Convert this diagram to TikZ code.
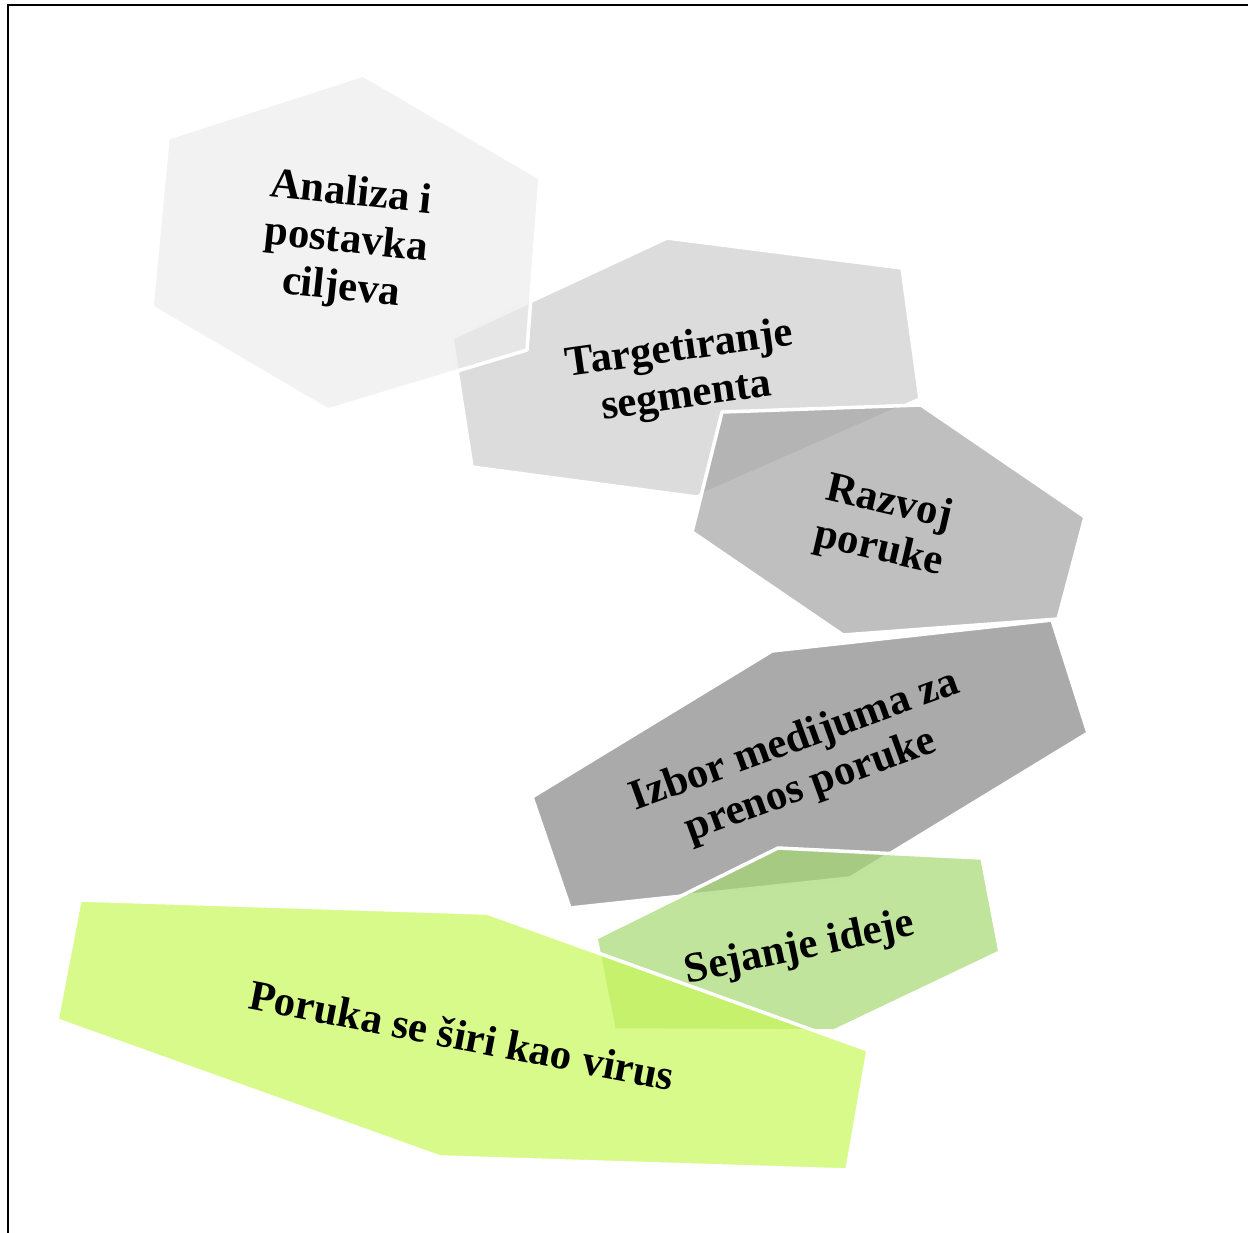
\documentclass[tikz,border=0pt]{standalone}
\usepackage{fontspec}
\setmainfont{Liberation Serif}

\definecolor{grayA}{RGB}{236,236,236}
\definecolor{grayB}{RGB}{205,205,205}
\definecolor{grayC}{RGB}{164,164,164}
\definecolor{grayD}{RGB}{134,134,134}
\definecolor{greenA}{RGB}{165,216,114}
\definecolor{greenB}{RGB}{200,248,90}

\begin{document}
\begin{tikzpicture}[x=0.2mm, y=-0.2mm, hexa/.style={draw=white, line width=2pt, line join=round, fill opacity=0.7}, caption/.style={font=\fontsize{24.3}{27}\selectfont\bfseries, align=center, text=black}]
\clip (0,0) rectangle (1248,1232);
\draw [line width=1.2pt] (8,5) rectangle (1270,1250);

% the hexagons, back to front
\filldraw [hexa, fill=grayB] (452,338) -- (667,238) -- (902,268) -- (920,399) -- (697,497) -- (472,467) -- cycle;
\filldraw [hexa, fill=grayA] (168,138) -- (363,75) -- (540,178) -- (527,350) -- (328,410) -- (152,307) -- cycle;
\filldraw [hexa, fill=grayC] (722,412) -- (921,405) -- (1085,517) -- (1058,619) -- (843,635) -- (692,532) -- cycle;
\filldraw [hexa, fill=grayD] (532,797) -- (772,651) -- (1052,620) -- (1088,733) -- (850,878) -- (570,908) -- cycle;
\filldraw [hexa, fill=greenA] (596,938) -- (778,848) -- (982,858) -- (1000,952) -- (834,1031) -- (614,1030) -- cycle;
\filldraw [hexa, fill=greenB] (80,900) -- (487,913) -- (868,1050) -- (847,1170) -- (440,1157) -- (57,1020) -- cycle;

% labels
\node [caption, rotate=-6] (analiza) at (346,242) {Analiza i\\postavka\\ciljeva};
\node [caption, rotate=8] (target) at (683,374) {Targetiranje\\segmenta};
\node [caption, rotate=-13] (razvoj) at (884,527) {Razvoj\\poruke};
\node [caption, rotate=20] (izbor) at (803,764) {Izbor medijuma za\\prenos poruke};
\node [caption, rotate=12] (sejanje) at (800,949) {Sejanje ideje};
\node [caption, rotate=-11] (poruka) at (462,1035) {Poruka se širi kao virus};
\end{tikzpicture}
\end{document}
